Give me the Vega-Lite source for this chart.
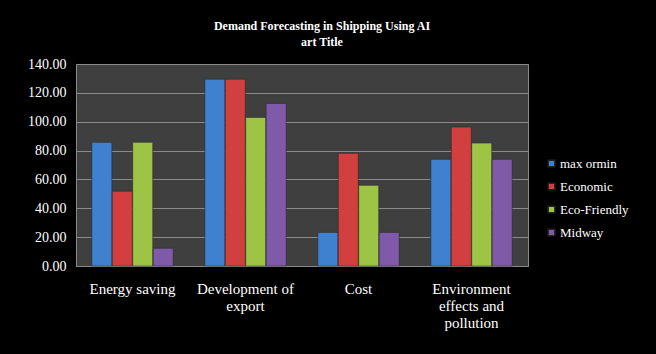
{
  "$schema": "https://vega.github.io/schema/vega-lite/v6.json",
  "autosize": "none",
  "width": 452,
  "height": 202,
  "padding": {"left": 76, "top": 64, "right": 128, "bottom": 88},
  "background": "#000000",
  "title": {
    "text": ["Demand Forecasting in Shipping Using AI", "art Title"],
    "font": "Liberation Serif",
    "fontSize": 12,
    "fontWeight": "bold",
    "color": "#ffffff",
    "lineHeight": 16,
    "anchor": "middle",
    "dx": 20,
    "offset": 8
  },
  "data": {
    "values": [
      {"category": "Energy saving", "series": "max ormin", "value": 85.7},
      {"category": "Energy saving", "series": "Economic", "value": 51.8},
      {"category": "Energy saving", "series": "Eco-Friendly", "value": 85.7},
      {"category": "Energy saving", "series": "Midway", "value": 12.3},
      {"category": "Development of export", "series": "max ormin", "value": 129.4},
      {"category": "Development of export", "series": "Economic", "value": 129.4},
      {"category": "Development of export", "series": "Eco-Friendly", "value": 103},
      {"category": "Development of export", "series": "Midway", "value": 112.7},
      {"category": "Cost", "series": "max ormin", "value": 23.3},
      {"category": "Cost", "series": "Economic", "value": 78.1},
      {"category": "Cost", "series": "Eco-Friendly", "value": 55.9},
      {"category": "Cost", "series": "Midway", "value": 23.3},
      {"category": "Environment effects and pollution", "series": "max ormin", "value": 73.9},
      {"category": "Environment effects and pollution", "series": "Economic", "value": 96.3},
      {"category": "Environment effects and pollution", "series": "Eco-Friendly", "value": 85.2},
      {"category": "Environment effects and pollution", "series": "Midway", "value": 73.9}
    ]
  },
  "mark": {"type": "bar", "strokeWidth": 1, "stroke": "#222222", "strokeOpacity": 0.5},
  "encoding": {
    "x": {
      "field": "category",
      "type": "nominal",
      "sort": ["Energy saving", "Development of export", "Cost", "Environment effects and pollution"],
      "scale": {"paddingInner": 0.28, "paddingOuter": 0.14},
      "axis": {
        "title": null,
        "labelAngle": 0,
        "labelFont": "Liberation Serif",
        "labelFontSize": 15,
        "labelColor": "#ffffff",
        "labelPadding": 15,
        "labelLineHeight": 17,
        "labelBaseline": "top",
        "ticks": false,
        "domain": true,
        "domainColor": "#8a8a8a",
        "labelExpr": "datum.value == 'Development of export' ? ['Development of', 'export'] : datum.value == 'Environment effects and pollution' ? ['Environment', 'effects and', 'pollution'] : datum.value"
      }
    },
    "xOffset": {
      "field": "series",
      "type": "nominal",
      "sort": ["max ormin", "Economic", "Eco-Friendly", "Midway"],
      "scale": {"paddingInner": 0.02}
    },
    "y": {
      "field": "value",
      "type": "quantitative",
      "scale": {"domain": [0, 140]},
      "axis": {
        "title": null,
        "values": [0, 20, 40, 60, 80, 100, 120, 140],
        "format": ".2f",
        "labelFont": "Liberation Serif",
        "labelFontSize": 14,
        "labelColor": "#ffffff",
        "labelPadding": 10,
        "ticks": false,
        "domain": false,
        "grid": true,
        "gridColor": "#8a8a8a",
        "gridWidth": 1
      }
    },
    "color": {
      "field": "series",
      "type": "nominal",
      "sort": ["max ormin", "Economic", "Eco-Friendly", "Midway"],
      "scale": {
        "domain": ["max ormin", "Economic", "Eco-Friendly", "Midway"],
        "range": ["#3F80CF", "#D23F3F", "#9DC445", "#7F5AA8"]
      },
      "legend": {
        "title": null,
        "orient": "none",
        "legendX": 469,
        "legendY": 93,
        "symbolType": "square",
        "symbolSize": 45,
        "labelFont": "Liberation Serif",
        "labelFontSize": 13,
        "labelColor": "#ffffff",
        "rowPadding": 9,
        "labelOffset": 2
      }
    }
  },
  "config": {
    "font": "Liberation Serif",
    "view": {"fill": "#3f3f3f", "stroke": "#8a8a8a", "strokeWidth": 1}
  }
}
